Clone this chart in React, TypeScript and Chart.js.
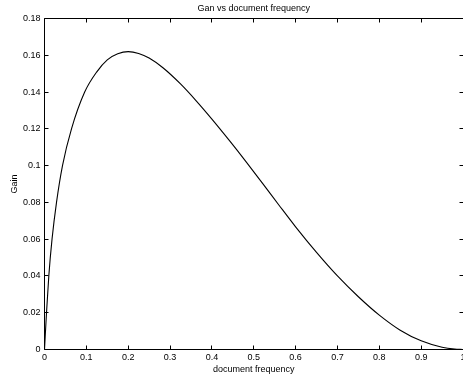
import React, { useEffect, useRef } from "react";
import { Chart, registerables } from "chart.js";

Chart.register(...registerables);

// Data
const docFreq = [
  0, 0.0048, 0.0103, 0.018, 0.0287, 0.043, 0.0645, 0.096, 0.125, 0.15, 0.175,
  0.2, 0.225, 0.25, 0.283, 0.325, 0.363, 0.4, 0.443, 0.48, 0.522, 0.56, 0.6,
  0.65, 0.7, 0.75, 0.8, 0.85, 0.9, 0.95, 0.98, 1.0,
];
const gain = [
  0, 0.02, 0.04, 0.06, 0.08, 0.1, 0.12, 0.14, 0.151, 0.1575, 0.1608,
  0.162, 0.161, 0.1585, 0.1532, 0.1444, 0.1351, 0.1253, 0.1133, 0.1026, 0.0901,
  0.0786, 0.0667, 0.0528, 0.04, 0.0287, 0.0187, 0.0105, 0.0047, 0.0012, 0.0002, 0,
];
const xTicks = [0, 0.1, 0.2, 0.3, 0.4, 0.5, 0.6, 0.7, 0.8, 0.9, 1];
const yTicks = [0, 0.02, 0.04, 0.06, 0.08, 0.1, 0.12, 0.14, 0.16, 0.18];
const chartTitle = "Gan vs document frequency";
const xTitle = "document frequency";
const yTitle = "Gain";

const FONT = "'Liberation Sans', Arial, Helvetica, sans-serif";

const framePlugin = {
  id: "matlabFrame",
  afterDatasetsDraw(chart: any) {
    const { ctx, chartArea: a, scales } = chart;
    const xs = scales.x;
    const ys = scales.y;
    const snap = (p: number) => Math.round(p - 0.5) + 0.5;
    const L = snap(a.left), R = snap(a.right), T = snap(a.top), B = snap(a.bottom);
    const tl = 4;
    ctx.save();
    ctx.strokeStyle = "#000";
    ctx.lineWidth = 1;
    ctx.beginPath();
    ctx.rect(L, T, R - L, B - T);
    xs.ticks.forEach((t: any) => {
      const px = snap(xs.getPixelForValue(t.value));
      ctx.moveTo(px, B);
      ctx.lineTo(px, B - tl);
      ctx.moveTo(px, T);
      ctx.lineTo(px, T + tl);
    });
    ys.ticks.forEach((t: any) => {
      const py = snap(ys.getPixelForValue(t.value));
      ctx.moveTo(L, py);
      ctx.lineTo(L + tl, py);
      ctx.moveTo(R, py);
      ctx.lineTo(R - tl, py);
    });
    ctx.stroke();
    ctx.restore();
  },
};

export default function App() {
  const ref = useRef<HTMLCanvasElement | null>(null);

  useEffect(() => {
    if (!ref.current) return;
    const font = { family: FONT, size: 9 };
    const noGrid = { display: false, drawTicks: false };
    const chart = new Chart(ref.current, {
      type: "scatter",
      data: {
        datasets: [
          {
            label: yTitle,
            data: docFreq.map((x, i) => ({ x, y: gain[i] })),
            showLine: true,
            borderColor: "#000",
            borderWidth: 1.1,
            pointRadius: 0,
            cubicInterpolationMode: "monotone",
            fill: false,
          },
        ],
      },
      options: {
        responsive: false,
        animation: false,
        events: [],
        layout: { padding: { left: 0, right: -1.5, top: 0, bottom: 0 } },
        plugins: {
          legend: { display: false },
          tooltip: { enabled: false },
          title: { display: false },
        },
        scales: {
          x: {
            type: "linear",
            position: "bottom",
            min: 0,
            max: 1,
            grid: noGrid,
            border: { display: false },
            afterBuildTicks: (s: any) => {
              s.ticks = xTicks.map((v) => ({ value: v }));
            },
            afterFit: (s: any) => {
              s.height = 26.5;
              s.paddingLeft = 0;
              s.paddingRight = 0;
            },
            ticks: {
              color: "#000",
              font,
              padding: 2.8,
              maxRotation: 0,
              autoSkip: false,
              callback: (v: any) => String(v),
            },
            title: {
              display: true,
              text: xTitle,
              color: "#000",
              font,
              padding: { top: 0, bottom: 1.2 },
            },
          },
          x2: {
            type: "linear",
            axis: "x",
            position: "top",
            min: 0,
            max: 1,
            grid: noGrid,
            border: { display: false },
            ticks: { display: false },
            afterBuildTicks: (s: any) => {
              s.ticks = xTicks.map((v) => ({ value: v }));
            },
            afterFit: (s: any) => {
              s.height = 18.5;
              s.paddingLeft = 0;
              s.paddingRight = 0;
            },
            title: {
              display: true,
              text: chartTitle,
              color: "#000",
              font,
              padding: { top: 3, bottom: 0 },
            },
          },
          y: {
            type: "linear",
            position: "left",
            min: 0,
            max: 0.18,
            grid: noGrid,
            border: { display: false },
            afterBuildTicks: (s: any) => {
              s.ticks = yTicks.map((v) => ({ value: v }));
            },
            afterFit: (s: any) => {
              s.width = 44.5;
              s.paddingTop = 0;
              s.paddingBottom = 0;
            },
            ticks: {
              color: "#000",
              font,
              padding: 4,
              autoSkip: false,
              callback: (v: any) => String(v),
            },
            title: {
              display: true,
              text: yTitle,
              color: "#000",
              font,
              padding: { top: 8.8, bottom: 0 },
            },
          },
        },
      },
      plugins: [framePlugin],
    } as any);
    return () => chart.destroy();
  }, []);

  return (
    <div style={{ position: "absolute", left: 0, top: 0, width: 463, height: 376, background: "#fff" }}>
      <canvas ref={ref} width={463} height={376} style={{ display: "block", width: 463, height: 376 }} />
    </div>
  );
}
